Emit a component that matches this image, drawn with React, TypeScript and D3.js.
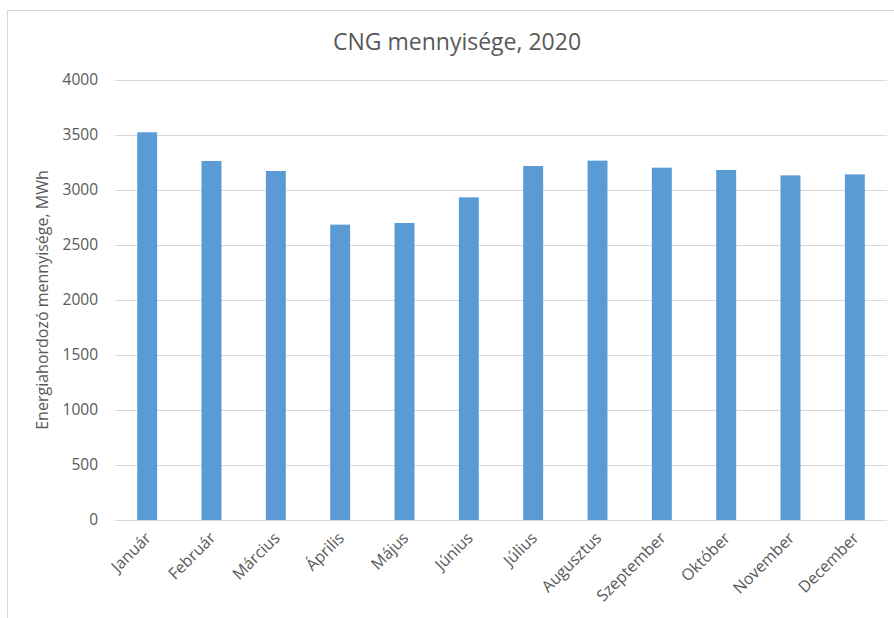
import React, { useEffect, useRef } from 'react';
import * as d3 from 'd3';

const months = [
  'Január', 'Február', 'Március', 'Április', 'Május', 'Június',
  'Július', 'Augusztus', 'Szeptember', 'Október', 'November', 'December',
];
const cngMWh = [3525, 3264, 3173, 2685, 2700, 2933, 3218, 3267, 3203, 3182, 3133, 3142];
const yTicks = [0, 500, 1000, 1500, 2000, 2500, 3000, 3500, 4000];

const chartTitle = 'CNG mennyisége, 2020';
const yTitle = 'Energiahordozó mennyisége, MWh';

export default function App() {
  const ref = useRef<SVGSVGElement>(null);

  const width = 894;
  const height = 618;
  const margin = { top: 80, right: 7, bottom: 98, left: 115 };
  const textColor = '#595959';
  const font = 'Open Sans';

  useEffect(() => {
    document.body.style.margin = '0';
    drawChart();
  }, []);

  function drawChart() {
    const svg = d3.select(ref.current);
    svg.selectAll('*').remove();

    // chart frame
    svg.append('rect')
      .attr('x', 7.5).attr('y', 10.5)
      .attr('width', width).attr('height', height)
      .attr('fill', '#fff')
      .attr('stroke', '#d9d9d9');

    const x = d3.scaleBand<string>()
      .domain(months)
      .range([margin.left, width - margin.right])
      .paddingInner(0.69)
      .paddingOuter(0.345);

    const y = d3.scaleLinear()
      .domain([0, 4000])
      .range([height - margin.bottom, margin.top]);

    // gridlines
    svg.append('g')
      .selectAll('line')
      .data(yTicks)
      .enter()
      .append('line')
      .attr('x1', margin.left)
      .attr('x2', width - margin.right)
      .attr('y1', (d) => Math.round(y(d)) + 0.5)
      .attr('y2', (d) => Math.round(y(d)) + 0.5)
      .attr('stroke', '#d9d9d9')
      .attr('stroke-width', 1);

    // y tick labels
    svg.append('g')
      .selectAll('text')
      .data(yTicks)
      .enter()
      .append('text')
      .attr('x', 98)
      .attr('y', (d) => y(d))
      .attr('dy', '0.35em')
      .attr('text-anchor', 'end')
      .style('font-family', font)
      .style('font-size', '15.5px')
      .style('fill', textColor)
      .text((d) => d);

    // bars
    svg.append('g')
      .selectAll('rect')
      .data(cngMWh)
      .enter()
      .append('rect')
      .attr('x', (_, i) => x(months[i]) as number)
      .attr('y', (d) => y(d))
      .attr('width', x.bandwidth())
      .attr('height', (d) => y(0) - y(d))
      .style('fill', '#5b9bd5');

    // x labels
    svg.append('g')
      .selectAll('text')
      .data(months)
      .enter()
      .append('text')
      .attr('text-anchor', 'end')
      .style('font-family', font)
      .style('font-size', '16px')
      .style('fill', textColor)
      .attr('transform', (d) => {
        const cx = (x(d) as number) + x.bandwidth() / 2 + 5;
        return `translate(${cx}, ${y(0) + 19}) rotate(-45)`;
      })
      .text((d) => d);

    // title
    svg.append('text')
      .attr('x', 457)
      .attr('y', 50)
      .attr('text-anchor', 'middle')
      .style('font-family', font)
      .style('font-size', '23px')
      .style('fill', textColor)
      .text(chartTitle);

    // y axis title
    svg.append('text')
      .attr('transform', `translate(48, ${(y(0) + y(4000)) / 2}) rotate(-90)`)
      .attr('text-anchor', 'middle')
      .style('font-family', font)
      .style('font-size', '16px')
      .style('fill', textColor)
      .text(yTitle);
  }

  return <svg ref={ref} width={width} height={height} style={{ display: 'block' }} />;
}
